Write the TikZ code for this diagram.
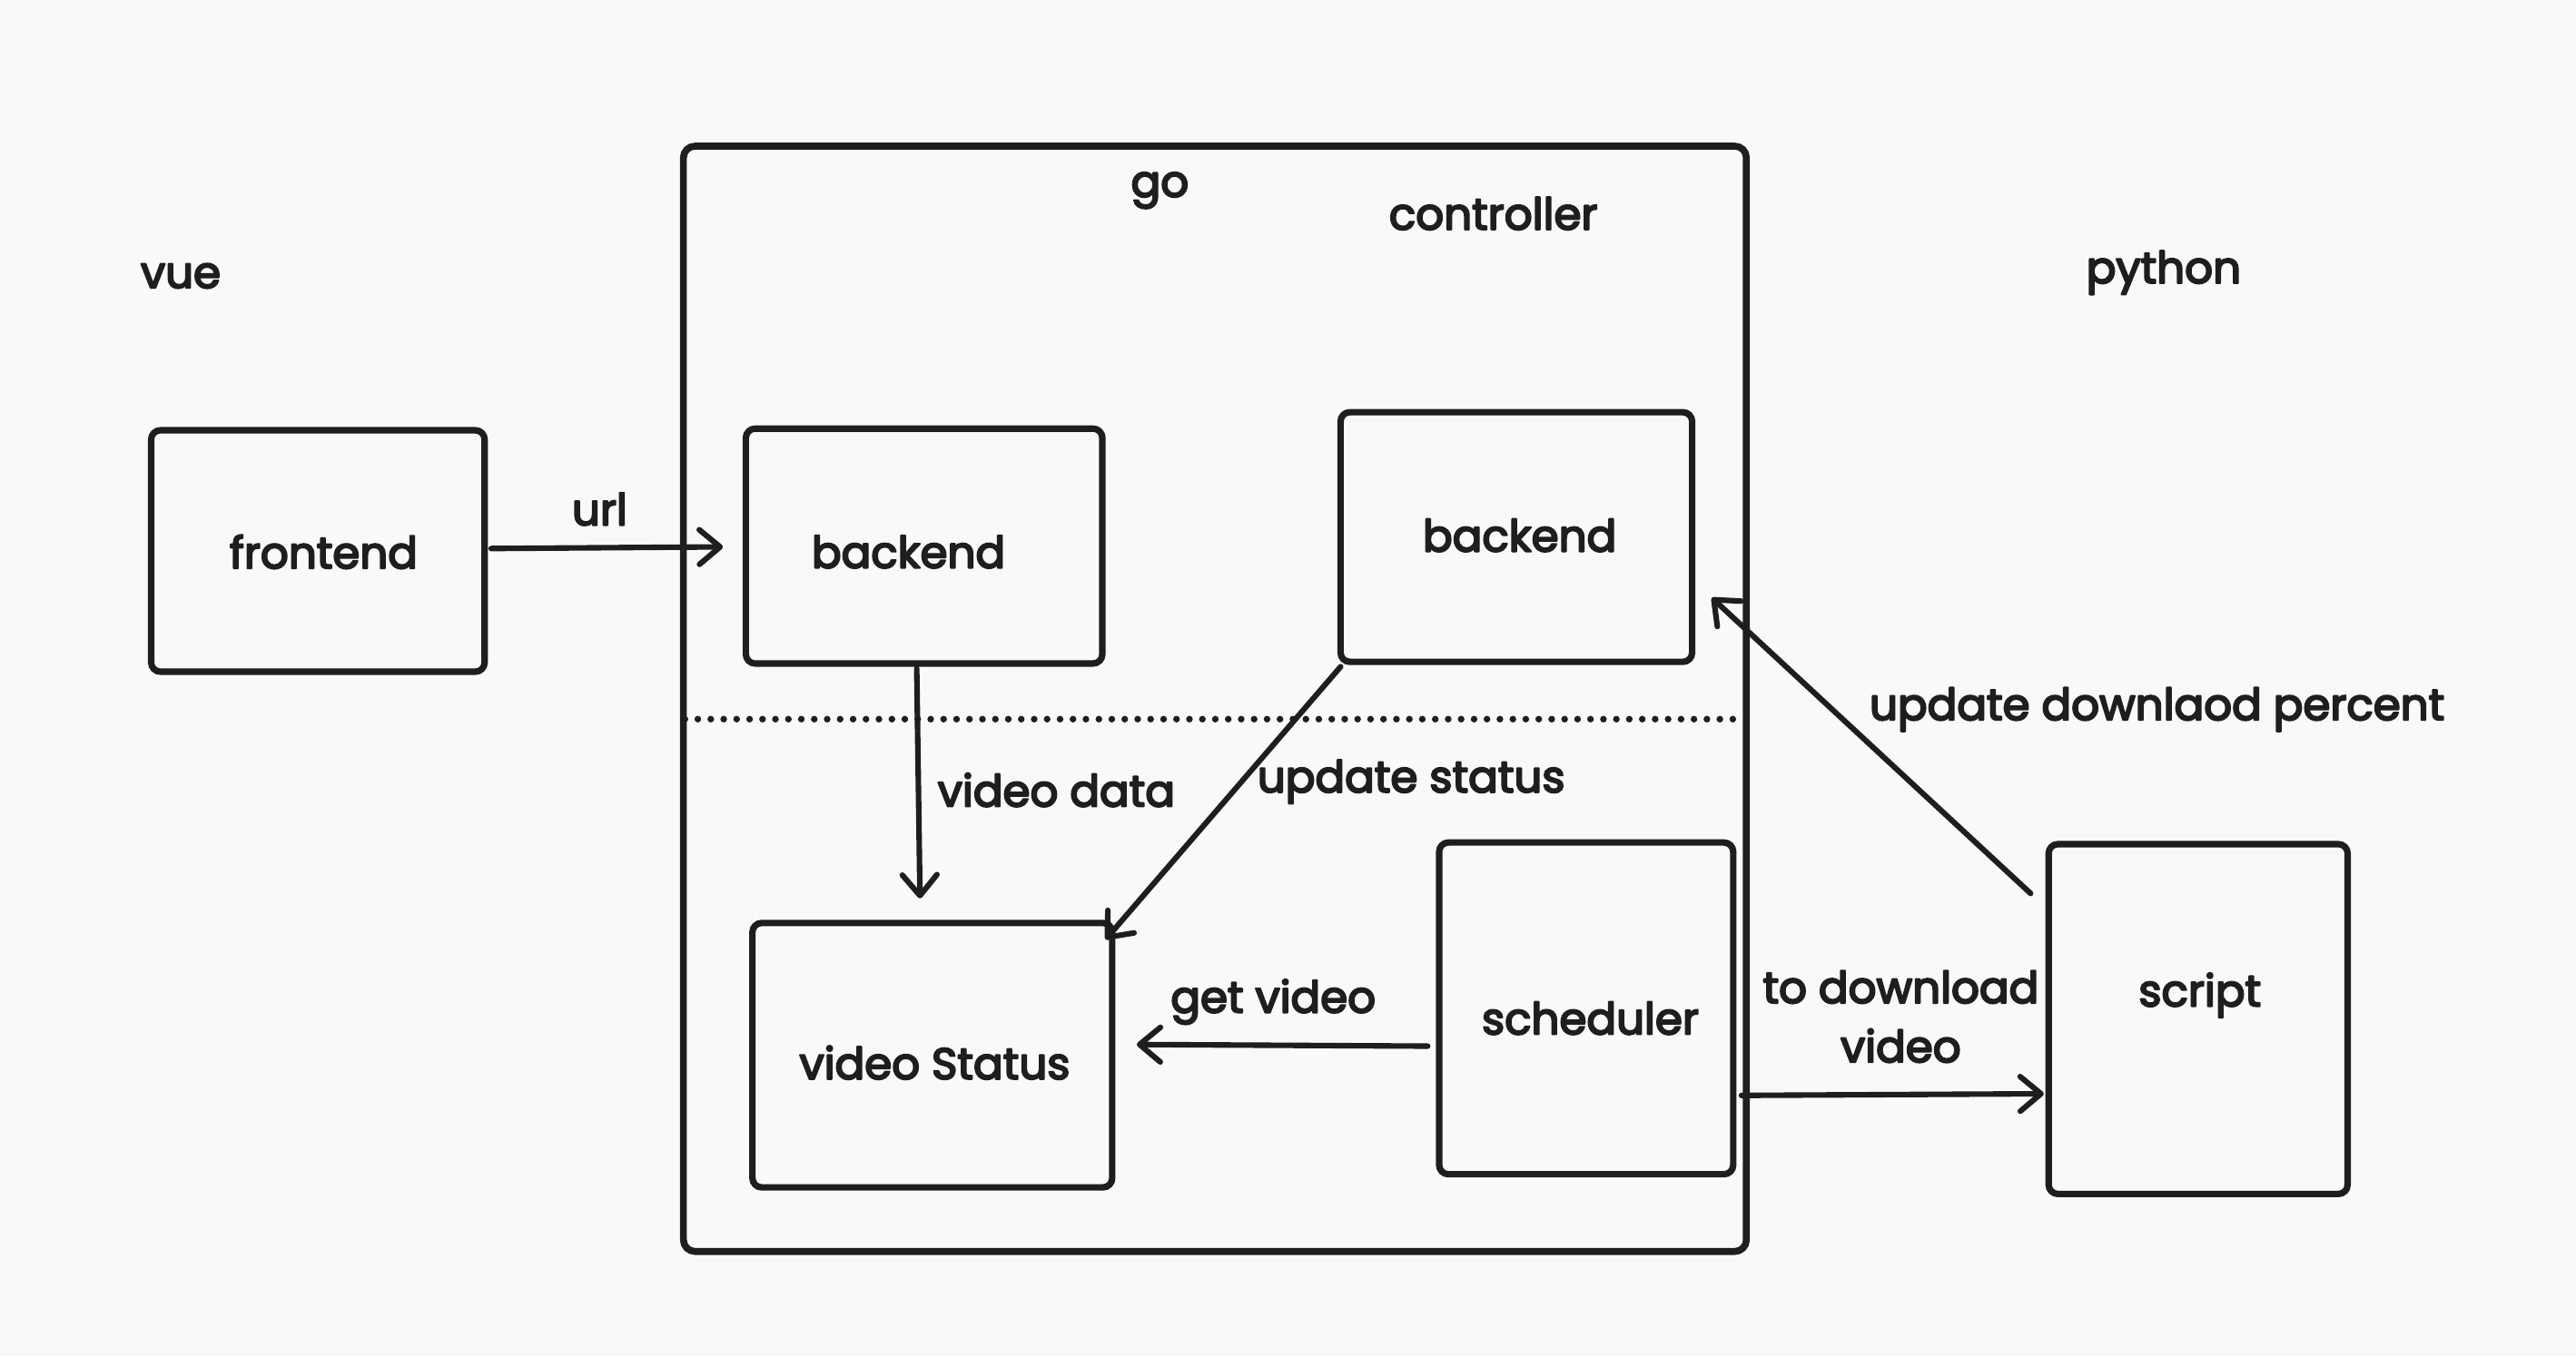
\documentclass[tikz,border=0pt]{standalone}
\usepackage{fontspec}
\setmainfont{Poppins}
\usetikzlibrary{arrows.meta,calc}
\definecolor{ink}{HTML}{1E1E1E}
\definecolor{bg}{HTML}{F8F9FA}
\newcommand{\heavytext}{\special{pdf:literal direct 2 Tr 0.8 w 1 j}}
\begin{document}
\begin{tikzpicture}[x=0.025cm,y=-0.025cm,
  sz/.style 2 args={minimum width=#1*0.025cm, minimum height=#2*0.025cm},
  box/.style={draw=ink, line width=2.8pt, rounded corners=4pt, inner sep=0pt},
  gobox/.style={draw=ink, line width=3pt, rounded corners=5pt, inner sep=0pt},
  txt/.style={text=ink, font=\fontsize{19}{25.6}\selectfont\heavytext, inner sep=0pt},
  arr/.style={draw=ink, line width=2.4pt, line cap=round, -{Straight Barb[length=9pt,width=15pt,round]}},
  dots/.style={draw=ink, line width=2.9pt, line cap=round, dash pattern=on 0pt off 5.6pt}]
\path[fill=bg] (0,0) rectangle (1568,826);
\useasboundingbox (0,0) rectangle (1568,826);
% containers and boxes
\node[gobox, sz={647}{673}] (go) at (739.5,425.5) {};
\node[box, sz={203}{147}] (fe) at (193.5,335.5) {};
\node[box, sz={217}{143}] (be1) at (562.5,332.5) {};
\node[box, sz={214}{152}] (be2) at (923,327) {};
\node[box, sz={219}{161}] (vs) at (567.5,642.5) {};
\node[box, sz={179}{202}] (sch) at (965.5,614) {};
\node[box, sz={182}{213}] (sc) at (1338,620.5) {};
% box texts
\node[txt] (fe-t) at (197,336) {frontend};
\node[txt] (be1-t) at (553,336) {backend};
\node[txt] (be2-t) at (925,326) {backend};
\node[txt] (vs-t) at (569,647) {video Status};
\node[txt] (sch-t) at (968,620) {scheduler};
\node[txt] (sc-t) at (1339,606) {script};
% free texts
\node[txt] (vue) at (110,168) {vue};
\node[txt] (python) at (1317,166) {python};
\node[txt] (golbl) at (706,116) {go};
\node[txt] (ctrl) at (909,130) {controller};
% dotted separator
\draw[dots] ($(go.north west)+(3,351)$) -- ($(go.north east)+(-4,351)$);
% connectors
\draw[arr] ($(fe.east)+(2,-1.5)$) -- ($(be1.west)+(-12,0.5)$);
\draw[arr] ($(be1.south)+(-4.5,1)$) -- ($(vs.north)+(-7.5,-13)$);
\draw[arr] ($(be2.south west)+(2,1)$) -- ($(vs.north east)+(-6,12)$);
\draw[arr] ($(sch.west)+(-5,23)$) -- ($(vs.east)+(13,-6.5)$);
\draw[arr] ($(sch.east)+(3,53)$) -- ($(sc.west)+(-1,45.5)$);
\draw[arr] ($(sc.north west)+(-9,32)$) -- ($(be2.east)+(10,37)$);
% connector labels
\node[txt] (url) at (365,310) {url};
\node[txt] (vdata) at (643,481) {video data};
\node[txt] (ustat) at (859,476) {update status};
\node[txt] (getv) at (775,610) {get video};
\node[txt, align=center] (todl) at (1157,619) {to download\\video};
\node[txt] (udp) at (1313,432) {update downlaod percent};
\end{tikzpicture}
\end{document}
